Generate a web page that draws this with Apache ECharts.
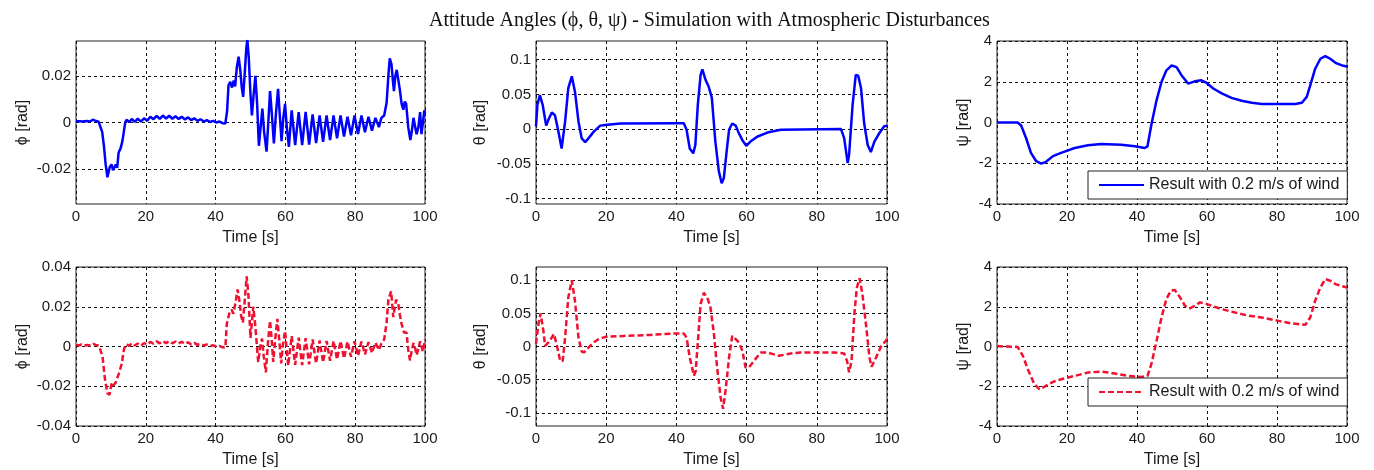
<!DOCTYPE html>
<html>
<head>
<meta charset="utf-8">
<script src="https://cdn.jsdelivr.net/npm/echarts@6/dist/echarts.min.js"></script>
<style>
html,body{margin:0;padding:0;background:#fff;}
#chart{width:1374px;height:470px;}
</style>
</head>
<body>
<div id="chart"></div>
<script>
// ---------- data (time [s], value) ----------
const titleText = 'Attitude Angles (\u03d5, \u03b8, \u03c8) - Simulation with Atmospheric Disturbances';
const legendText = 'Result with 0.2 m/s of wind';
const xLabel = 'Time [s]';
const yLabels = ['\u03d5 [rad]', '\u03b8 [rad]', '\u03c8 [rad]'];
const xTicks = [0, 20, 40, 60, 80, 100];
const phiTopTicks = [-0.02, 0, 0.02];
const thetaTicks = [-0.1, -0.05, 0, 0.05, 0.1];

const phiTop = [
 [0,0.0005],[1,0.0005],[1.5,0.001],[2,0.0004],[3,0.0006],[4,0.0004],[4.8,0.0012],[5.5,0.0008],[6.5,0.0003],[7,0],
 [7.5,-0.004],[8,-0.01],[8.5,-0.018],[9,-0.0235],[9.3,-0.024],[9.7,-0.019],[10.2,-0.018],[10.6,-0.0205],[11.1,-0.019],
 [11.4,-0.018],[11.8,-0.0195],[12.2,-0.013],[12.8,-0.011],[13.3,-0.008],[13.7,-0.004],[14.1,0],[14.5,0.0012],
 [15.2,0.0002],[16,0.0015],[16.8,0.0003],[17.7,0.0016],[18.6,0.0004],[19.5,0.0018],[20.4,0.0008],[21.3,0.0025],
 [22.2,0.0014],[23.1,0.0028],[24,0.0016],[24.9,0.003],[25.8,0.0017],[26.7,0.0029],[27.6,0.0016],[28.5,0.0027],
 [29.4,0.0015],[30.3,0.0025],[31.2,0.0013],[32.1,0.0022],[33,0.001],[33.9,0.0018],[34.8,0.0007],[35.7,0.0014],
 [36.6,0.0004],[37.5,0.001],[38.4,0.0002],[39.3,0.0007],[40.2,0],[41.1,0.0004],[42,-0.0003],[42.8,-0.0004],
 [43.3,0.005],[43.7,0.016],[44.2,0.0175],[44.7,0.015],[45.2,0.018],[45.6,0.0155],[46.1,0.024],[46.6,0.0283],
 [47.1,0.022],[47.5,0.015],[47.9,0.011],[48.3,0.02],[48.8,0.032],[49.1,0.0355],[49.5,0.028],[50,0.012],[50.4,0.003],
 [50.9,0.012],[51.4,0.02],[51.9,0.008],[52.4,-0.01],[52.9,-0.002],[53.4,0.006],[53.9,-0.004],[54.6,-0.0125],[55.1,0],
 [55.6,0.0135],[56.1,0.004],[56.7,-0.009],[57.3,0.004],[57.9,0.0145],[58.4,0.003],[58.9,-0.008],[59.4,0.002],
 [59.9,0.008],[60.4,-0.002],[61,-0.0105],[61.8,0.0052],[62.8,-0.0097],[63.8,0.0045],[64.8,-0.0097],[65.8,0.0046],
 [66.8,-0.0095],[67.8,0.0035],[68.8,-0.0088],[69.8,0.003],[70.8,-0.0083],[71.8,0.003],[72.8,-0.0075],[73.8,0.003],
 [74.8,-0.0068],[75.8,0.003],[76.8,-0.006],[77.8,0.0025],[78.8,-0.0055],[79.8,0.003],[80.8,-0.005],[81.8,0.003],
 [82.8,-0.0042],[83.8,0.0025],[84.8,-0.0035],[85.8,0.002],[86.8,-0.002],[87.5,0.002],[88.3,0.003],[89,0.0085],
 [89.5,0.02],[89.9,0.0276],[90.4,0.025],[90.8,0.018],[91.1,0.0135],[91.5,0.02],[91.9,0.0226],[92.3,0.022],[92.8,0.014],
 [93.3,0.008],[93.8,0.0055],[94.2,0.009],[94.6,0.008],[95.2,-0.002],[95.8,-0.0075],[96.2,-0.004],[96.7,0.002],
 [97.2,-0.002],[97.6,-0.005],[98.1,-0.002],[98.6,0.0045],[99,-0.005],[99.4,0],[99.8,0.0052],[100,0.004]
];

const phiBot = [
 [0,0.0008],[1,0.0006],[1.6,0.0011],[2.3,0.0005],[3.2,0.0008],[4.1,0.0005],[4.9,0.0013],[5.7,0.0008],[6.6,0.0003],[7.1,-0.0005],
 [7.6,-0.005],[8.3,-0.0165],[9,-0.0235],[9.6,-0.0243],[10.2,-0.0186],[10.6,-0.02],[10.9,-0.02],[11.4,-0.018],[11.9,-0.017],
 [12.4,-0.013],[13.1,-0.0087],[13.8,-0.0009],[14.5,0.0012],[15.2,0.0003],[16,0.0016],[16.8,0.0005],[17.7,0.0015],
 [18.6,0.0004],[19.5,0.0017],[20.4,0.001],[21.3,0.0023],[22.2,0.0014],[23.1,0.0026],[24,0.0016],[24.9,0.0027],
 [25.8,0.0017],[26.7,0.0027],[27.6,0.0016],[28.5,0.0025],[29.4,0.0015],[30.3,0.0024],[31.2,0.0013],[32.1,0.0021],
 [33,0.001],[33.9,0.0018],[34.8,0.0008],[35.7,0.0013],[36.6,0.0005],[37.5,0.001],[38.4,0.0002],[39.3,0.0006],
 [40.2,0],[41.1,0.0003],[42,-0.0004],[42.8,-0.0005],
 [43.2,0.0113],[43.9,0.0165],[44.6,0.0185],[45.1,0.0165],[45.7,0.022],[46.3,0.0287],[46.9,0.022],[47.3,0.0155],
 [47.8,0.012],[48.3,0.022],[48.9,0.0353],[49.4,0.026],[50,0.0043],[50.4,0.012],[50.8,0.02],[51.4,0.01],[52.2,-0.0078],
 [52.8,0],[53.3,0.004],[53.8,-0.005],[54.4,-0.013],[55,0.002],[55.6,0.013],[56.1,0.003],[56.5,-0.0078],[57.1,0.004],
 [57.7,0.0139],[58.2,0.004],[58.8,-0.0085],[59.3,0.001],[59.9,0.0078],[60.4,-0.002],[60.8,-0.0096],[61.8,0.0052],
 [62.8,-0.0092],[63.8,0.0045],[64.8,-0.0094],[65.8,0.0042],[66.8,-0.009],[67.8,0.0035],[68.8,-0.0085],[69.8,0.003],
 [70.8,-0.008],[71.8,0.0028],[72.8,-0.0072],[73.8,0.0028],[74.8,-0.0065],[75.8,0.0027],[76.8,-0.006],[77.8,0.0025],
 [78.8,-0.0052],[79.8,0.0026],[80.8,-0.0047],[81.8,0.0025],[82.8,-0.004],[83.8,0.0022],[84.8,-0.0032],[85.8,0.002],
 [86.8,-0.0018],[87.5,0.0015],[88.3,0.0035],[89,0.012],[89.5,0.0235],[90.3,0.0278],[90.9,0.0148],[91.3,0.019],
 [91.7,0.0235],[92.3,0.022],[92.8,0.016],[93.3,0.0113],[94,0.007],[94.7,0.007],[95.2,-0.0017],[95.7,-0.007],
 [96.2,-0.002],[96.7,0.0017],[97.2,-0.001],[97.6,-0.0043],[98.1,-0.001],[98.6,0.0026],[99.4,-0.0026],[100,0.0035]
];

const thetaTop = [
 [0,0.004],[0.4,0.035],[1.1,0.049],[1.9,0.035],[2.9,0.005],[3.5,0.013],[4.5,0.024],[5.4,0.02],[6.4,-0.004],
 [7.3,-0.028],[8.3,0.011],[9.2,0.059],[10.2,0.076],[11.1,0.054],[12.1,0.011],[13,-0.013],[14,-0.019],[15,-0.013],
 [16.4,-0.004],[18.3,0.005],[19.7,0.006],[24,0.008],[39.7,0.0084],[42.1,0.0084],[42.9,-0.001],[43.8,-0.028],
 [44.8,-0.035],[45.4,-0.023],[46.1,0.035],[46.9,0.078],[47.4,0.086],[48.3,0.071],[49.2,0.061],[50.1,0.045],
 [51.1,-0.018],[52.1,-0.061],[52.9,-0.078],[53.5,-0.071],[54.3,-0.033],[55,-0.001],[55.9,0.008],[56.9,0.005],
 [57.8,-0.006],[58.8,-0.016],[59.9,-0.024],[61.1,-0.018],[63,-0.011],[65.9,-0.005],[69.7,-0.001],[86.9,0],
 [87.8,-0.013],[88.8,-0.049],[89.2,-0.037],[90.2,0.035],[91.1,0.078],[91.8,0.077],[92.6,0.059],[93.5,0.008],
 [94.5,-0.023],[95.4,-0.033],[96.4,-0.018],[97.8,-0.006],[99.2,0.004],[100,0.005]
];

const thetaBot = [
 [0,0.004],[0.7,0.034],[1.3,0.05],[2.1,0.024],[2.6,0.001],[3.5,0.006],[4.5,0.0135],[5.1,0.019],[5.9,0.003],
 [6.9,-0.022],[7.6,-0.022],[8.3,0.0135],[9.2,0.074],[10.2,0.1],[11.1,0.069],[12.1,0.0135],[13,-0.0075],
 [13.7,-0.009],[15,-0.0015],[16.4,0.006],[17.8,0.011],[19.7,0.0145],[25,0.016],[32.6,0.0175],[39.2,0.0195],
 [42.1,0.0195],[42.9,0.0135],[43.8,-0.0165],[45,-0.044],[45.5,-0.037],[46.2,0.0135],[46.9,0.064],[47.8,0.081],
 [48.8,0.074],[49.7,0.059],[50.7,0.0185],[51.6,-0.0316],[52.6,-0.077],[53.3,-0.094],[54,-0.067],[55,-0.0165],
 [55.9,0.016],[56.9,0.011],[57.8,0.006],[58.8,-0.0065],[59.7,-0.0316],[60.7,-0.0316],[62.1,-0.0216],[64,-0.009],
 [65.9,-0.009],[69.2,-0.014],[72.6,-0.0105],[75.4,-0.009],[84.9,-0.009],[87.8,-0.0105],[88.6,-0.0216],
 [89.2,-0.039],[89.9,-0.022],[90.7,0.0486],[91.4,0.0887],[92.2,0.103],[93,0.0787],[94,0.0336],[95,-0.0165],
 [95.6,-0.0306],[96.9,-0.0165],[98.3,0],[100,0.011]
];

const psiTop = [
 [0,0],[5.9,0],[6.9,-0.15],[8.3,-0.76],[9.7,-1.49],[11.2,-1.9],[12.6,-2.02],[14,-1.93],[16,-1.65],[18.3,-1.49],
 [22.2,-1.25],[26,-1.12],[29.8,-1.05],[35.5,-1.09],[39.4,-1.17],[42.2,-1.25],[43,-1.17],[44.1,-0.11],[45.6,1.1],
 [47,1.99],[48.4,2.56],[49.9,2.8],[51.3,2.72],[52.7,2.32],[54.6,1.91],[56.5,2.02],[58.4,2.07],[59.9,1.94],
 [61.8,1.67],[64.2,1.43],[67,1.21],[69.9,1.07],[72.8,0.97],[75.6,0.91],[85.2,0.91],[87.1,0.97],[88.5,1.26],
 [89.8,1.99],[90.9,2.64],[92.4,3.13],[93.8,3.26],[95.2,3.13],[96.7,2.93],[98.6,2.8],[100,2.75]
];

const psiBot = [
 [0,0.03],[2.1,0],[5.9,-0.02],[7.4,-0.47],[8.8,-1.14],[10.7,-1.9],[12.1,-2.15],[13.6,-2.02],[16,-1.78],
 [18.3,-1.65],[22.2,-1.48],[26,-1.31],[29.8,-1.26],[33.6,-1.36],[37.4,-1.48],[41.3,-1.53],[43,-1.48],
 [44.1,-0.89],[45.6,0.29],[47,1.46],[48.4,2.39],[49.7,2.81],[50.8,2.84],[52.3,2.47],[53.7,2.05],[55.1,1.92],
 [56.5,2.05],[58,2.22],[59.4,2.17],[61.3,2.05],[64.2,1.88],[68,1.71],[71.8,1.55],[75.6,1.46],[80.4,1.29],
 [84.2,1.16],[88.1,1.09],[89.5,1.46],[90.9,2.3],[92.4,2.97],[93.8,3.39],[95.2,3.31],[96.7,3.14],[98.6,3.03],[100,2.97]
];

// ---------- layout ----------
const cols = [{left:76,width:349,gap:45},{left:536,width:351,gap:47},{left:997,width:350,gap:25}];
const rows = [{top:41,height:163},{top:267,height:159}];
const blue = '#0000ff', red = '#f01030';
const fontSans = 'Liberation Sans, Arial, sans-serif';
const txt = '#1a1a1a';

const panels = [
 {r:0,c:0,data:phiTop,min:-0.035,max:0.035,ticks:phiTopTicks,color:blue,dash:'solid',name:'phiTop',yl:0},
 {r:0,c:1,data:thetaTop,min:-0.108,max:0.127,ticks:thetaTicks,color:blue,dash:'solid',name:'thetaTop',yl:1},
 {r:0,c:2,data:psiTop,min:-4,max:4,interval:2,color:blue,dash:'solid',name:'psiTop',yl:2},
 {r:1,c:0,data:phiBot,min:-0.04,max:0.04,interval:0.02,color:red,dash:[6,3],name:'phiBot',yl:0},
 {r:1,c:1,data:thetaBot,min:-0.12,max:0.12,ticks:thetaTicks,color:red,dash:[6,3],name:'thetaBot',yl:1},
 {r:1,c:2,data:psiBot,min:-4,max:4,interval:2,color:red,dash:[6,3],name:'psiBot',yl:2}
];

const grid = [], xAxis = [], yAxis = [], series = [];
panels.forEach((p, i) => {
  const c = cols[p.c], r = rows[p.r];
  grid.push({left:c.left, top:r.top, width:c.width, height:r.height, show:true,
    borderColor:'#222', borderWidth:1, backgroundColor:'#fff', containLabel:false});
  const split = {show:true, lineStyle:{color:'#111', type:[3,3], width:1}};
  xAxis.push({type:'value', gridIndex:i, min:0, max:100, interval:20,
    name:xLabel, nameLocation:'middle', nameGap:26,
    nameTextStyle:{fontFamily:fontSans, fontSize:16, color:txt},
    axisLine:{show:false}, axisTick:{show:false},
    axisLabel:{fontFamily:fontSans, fontSize:15, color:txt, margin:5},
    splitLine:split});
  const y = {type:'value', gridIndex:i, min:p.min, max:p.max,
    name:yLabels[p.yl], nameLocation:'middle', nameGap:c.gap, nameRotate:90,
    nameTextStyle:{fontFamily:fontSans, fontSize:16, color:txt},
    axisLine:{show:false},
    axisLabel:{fontFamily:fontSans, fontSize:15, color:txt, margin:5},
    splitLine:split};
  if (p.ticks) {
    y.axisTick = {show:false, customValues:p.ticks};
    y.axisLabel.customValues = p.ticks;
  } else {
    y.interval = p.interval;
    y.axisTick = {show:false};
  }
  yAxis.push(y);
  series.push({type:'line', name:p.name, xAxisIndex:i, yAxisIndex:i, data:p.data,
    symbol:'none', showSymbol:false, animation:false, clip:true,
    lineStyle:{color:p.color, width:2.5, type:p.dash}, itemStyle:{color:p.color}});
});

const legendBase = {orient:'horizontal', left:1088, itemWidth:45, itemHeight:14, itemGap:0,
  padding:[6,8,6,10], borderColor:'#222', borderWidth:1, backgroundColor:'#fff',
  itemStyle:{opacity:0},
  textStyle:{fontFamily:fontSans, fontSize:16, color:txt},
  formatter:() => legendText, selectedMode:false};

const option = {
  backgroundColor:'#fff',
  animation:false,
  title:{text:titleText, left:424, top:6,
    textStyle:{fontFamily:'Liberation Serif, Times New Roman, serif', fontSize:20, fontWeight:'normal', color:'#111'}},
  grid, xAxis, yAxis, series,
  legend:[
    Object.assign({}, legendBase, {top:171, data:['psiTop']}),
    Object.assign({}, legendBase, {top:378, data:['psiBot']})
  ]
};

const chart = echarts.init(document.getElementById('chart'), null, {renderer:'canvas'});
chart.setOption(option);
</script>
</body>
</html>
